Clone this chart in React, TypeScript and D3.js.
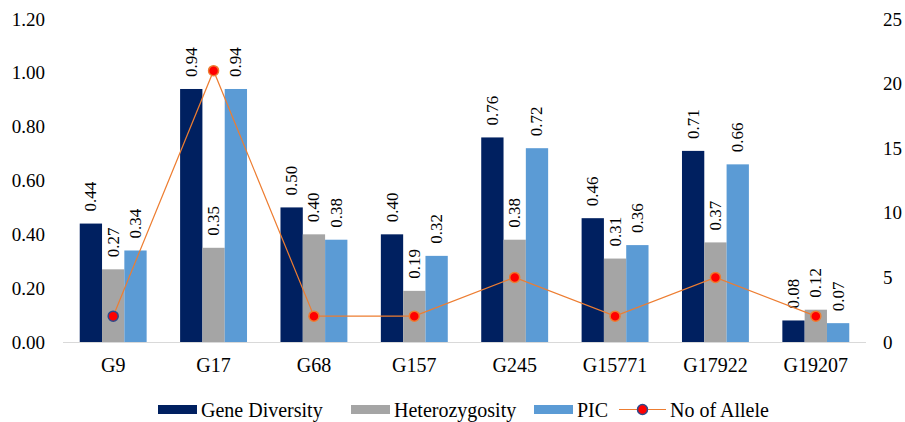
import React from "react";
import * as d3 from "d3";

const categories = ["G9", "G17", "G68", "G157", "G245", "G15771", "G17922", "G19207"];
const geneDiversity = [0.44, 0.94, 0.5, 0.4, 0.76, 0.46, 0.71, 0.08];
const heterozygosity = [0.27, 0.35, 0.4, 0.19, 0.38, 0.31, 0.37, 0.12];
const pic = [0.34, 0.94, 0.38, 0.32, 0.72, 0.36, 0.66, 0.07];
const alleles = [2, 21, 2, 2, 5, 2, 5, 2];
const leftTicks = [0, 0.2, 0.4, 0.6, 0.8, 1.0, 1.2];
const rightTicks = [0, 5, 10, 15, 20, 25];

const W = 905;
const H = 422;
const margin = { left: 63, right: 38, top: 19, bottom: 80 };
const FONT = "Liberation Serif";

const series = [
  { name: "Gene Diversity", values: geneDiversity, color: "#002060" },
  { name: "Heterozygosity", values: heterozygosity, color: "#A5A5A5" },
  { name: "PIC", values: pic, color: "#5B9BD5" },
];

export default function App() {
  const x0 = margin.left;
  const x1 = W - margin.right - 1;
  const yTop = margin.top;
  const yBot = H - margin.bottom;

  const x = d3.scaleBand<string>().domain(categories).range([x0, x1]).paddingInner(0).paddingOuter(0);
  const yL = d3.scaleLinear().domain([0, 1.2]).range([yBot, yTop]);
  const yR = d3.scaleLinear().domain([0, 25]).range([yBot, yTop]);

  const bw = x.bandwidth();
  const barW = bw / 4.5; // gap width 150%
  const groupW = barW * 3;

  const line = d3
    .line<number>()
    .x((_, i) => (x(categories[i]) as number) + bw / 2)
    .y((d) => yR(d));

  const legendSwatches = [
    { sx: 158, tx: 201 },
    { sx: 351, tx: 394 },
    { sx: 534, tx: 577 },
  ];

  return (
    <svg
      width={W}
      height={H}
      style={{ position: "absolute", left: 0, top: 0, background: "#fff" }}
    >
      <g fontFamily={FONT} fill="#000">
        {/* left axis labels */}
        {leftTicks.map((t) => (
          <text key={"l" + t} x={45} y={yL(t) + 6.5} textAnchor="end" fontSize={19}>
            {t.toFixed(2)}
          </text>
        ))}
        {/* right axis labels */}
        {rightTicks.map((t) => (
          <text key={"r" + t} x={883} y={yR(t) + 6.5} textAnchor="start" fontSize={19}>
            {t}
          </text>
        ))}

        {/* bars with value labels */}
        {categories.map((c, ci) => {
          const gx = (x(c) as number) + (bw - groupW) / 2;
          return (
            <g key={c}>
              {series.map((s, si) => {
                const v = s.values[ci];
                const bx = gx + si * barW;
                const by = yL(v);
                return (
                  <g key={s.name}>
                    <rect x={bx} y={by} width={barW} height={yBot - by} fill={s.color} />
                    <text
                      transform={`translate(${bx + barW / 2},${by - 12}) rotate(-90)`}
                      textAnchor="start"
                      dominantBaseline="central"
                      fontSize={17}
                    >
                      {v.toFixed(2)}
                    </text>
                  </g>
                );
              })}
            </g>
          );
        })}

        {/* baseline */}
        <line x1={x0} x2={x1} y1={yBot + 0.5} y2={yBot + 0.5} stroke="#D9D9D9" strokeWidth={1} />

        {/* category labels */}
        {categories.map((c) => (
          <text key={"c" + c} x={(x(c) as number) + bw / 2} y={372} textAnchor="middle" fontSize={20}>
            {c}
          </text>
        ))}

        {/* allele line */}
        <path d={line(alleles) || ""} fill="none" stroke="#ED7D31" strokeWidth={1.2} />
        {alleles.map((a, i) => (
          <circle
            key={"m" + i}
            cx={(x(categories[i]) as number) + bw / 2}
            cy={yR(a)}
            r={5}
            fill="#FF0000"
            stroke={i === 0 ? "#2F4A8A" : "#ED7D31"}
            strokeWidth={1.5}
          />
        ))}

        {/* legend */}
        {legendSwatches.map((p, i) => (
          <g key={"lg" + i}>
            <rect x={p.sx} y={405} width={39} height={9} fill={series[i].color} />
            <text x={p.tx} y={417} fontSize={20}>
              {series[i].name}
            </text>
          </g>
        ))}
        <line x1={619} x2={666} y1={409.5} y2={409.5} stroke="#ED7D31" strokeWidth={1.2} />
        <circle cx={642.5} cy={409.5} r={5} fill="#FF0000" stroke="#2F4A8A" strokeWidth={1.5} />
        <text x={670} y={417} fontSize={20}>
          No of Allele
        </text>
      </g>
    </svg>
  );
}
